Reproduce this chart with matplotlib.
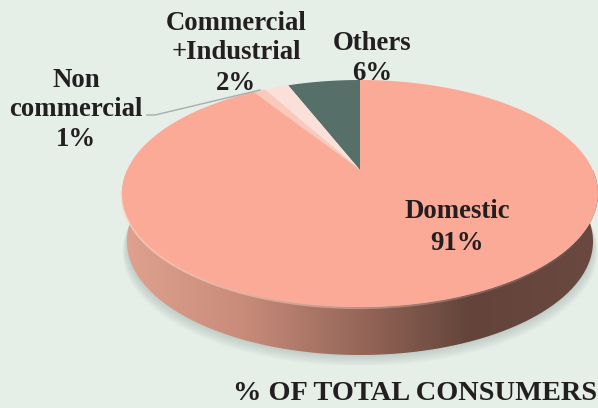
# -*- coding: UTF-8 -*-
"""Perspective pie chart: share of total consumers per category."""

import numpy as np
import matplotlib
matplotlib.use("Agg")
import matplotlib.pyplot as plt
from matplotlib.colors import LinearSegmentedColormap
from matplotlib.patches import Polygon

# counter-clockwise from twelve o'clock
CATEGORIES = ["Others", "Commercial\n+Industrial", "Non\ncommercial", "Domestic"]
SHARES = [6, 2, 1, 91]
COLORS = ["#566f69", "#fbe0da", "#f9cabc", "#fcaa98"]
TITLE = "% OF TOTAL CONSUMERS"

BACKGROUND = "#e6eee8"
TEXT_COLOR = "#231f20"
FONT = "Liberation Serif"

# picture geometry in pixels
APEX_X, APEX_Y = 360, 170
RADIUS_X = 238
UP, DOWN = 90, 137
DEPTH = 48


def project(angle, scale=1.0):
    """Tilted circle point for an angle in degrees, seen in perspective."""
    tilt = (DOWN - UP) / (DOWN + UP)
    height = UP * (1 + tilt)
    width = RADIUS_X * np.sqrt(1 - tilt ** 2)
    rad = np.radians(angle)
    denom = 1 + tilt * np.sin(rad) * scale
    return (APEX_X + width * scale * np.cos(rad) / denom,
            APEX_Y - height * scale * np.sin(rad) / denom)


def draw_shadow(ax):
    """Soft shadow under the disc."""
    angles = np.linspace(0, 360, 361)
    x, y = project(angles)
    for grow in np.linspace(11, 1, 10):
        scale_x = (RADIUS_X - 5 + grow * 0.4) / RADIUS_X
        pts = np.column_stack([APEX_X + (x - APEX_X) * scale_x,
                               y + DEPTH + grow])
        ax.add_patch(Polygon(pts, closed=True, fc="#8d9a94", ec="none",
                             alpha=0.04, zorder=1))


def draw_side(ax):
    """Rim of the disc with its left to right shading."""
    angles = np.linspace(180, 360, 181)
    x, y = project(angles)
    low_x = APEX_X + (x - APEX_X) * 233 / RADIUS_X
    pts = np.column_stack([np.r_[x, low_x[::-1]], np.r_[y, y[::-1] + DEPTH]])
    rim = Polygon(pts, closed=True, fc="none", ec="none", zorder=2)
    ax.add_patch(rim)
    cmap = LinearSegmentedColormap.from_list("rim", [
        (0.0, "#dfa28f"), (0.25, "#c98c7a"), (0.48, "#9a6a5c"),
        (0.73, "#64443a"), (1.0, "#6a4a40")])
    image = ax.imshow(np.linspace(0, 1, 256).reshape(1, -1), cmap=cmap,
                      extent=(122, 598, 408, 0), aspect="auto", zorder=2)
    image.set_clip_path(rim)
    # light edge where the top meets the rim, fading towards the right
    front = np.linspace(190, 330, 71)
    edge_x, edge_y = project(front)
    for i in range(len(front) - 1):
        fade = 0.9 * (1 - i / (len(front) - 1))
        ax.plot(edge_x[i:i + 2], edge_y[i:i + 2] + 1, color="#fcd0c0", lw=1.6,
                alpha=fade, solid_capstyle="butt", zorder=3)


def draw_slices(ax):
    """Top face of the disc, one polygon per category."""
    start = 90
    for share, color in zip(SHARES, COLORS):
        stop = start + share * 3.6
        x, y = project(np.linspace(start, stop, max(int(share * 4), 4)))
        pts = np.column_stack([np.r_[APEX_X, x], np.r_[APEX_Y, y]])
        ax.add_patch(Polygon(pts, closed=True, fc=color, ec="none", zorder=4))
        start = stop


def draw_labels(ax):
    """Category labels, percentages, leader line and title."""
    places = [(372, 43, 73), (236, 38, 84), (76, 95, 139), (457, 212, 244)]
    for name, share, (x, y_name, y_share) in zip(CATEGORIES, SHARES, places):
        ax.text(x, y_name, name, ha="center", va="center", fontsize=19.3,
                fontweight="bold", family=FONT, color=TEXT_COLOR,
                linespacing=1.22, zorder=6)
        ax.text(x, y_share, "%d%%" % share, ha="center", va="center",
                fontsize=19.3, fontweight="bold", family=FONT,
                color=TEXT_COLOR, zorder=6)
    ax.plot([147, 155, 260], [115, 115, 90], color="#a6adad", lw=1, zorder=5)
    ax.text(597, 393, TITLE, ha="right", va="center", fontsize=20.4,
            fontweight="bold", family=FONT, color=TEXT_COLOR, zorder=6)


def main():
    """Build the figure and save it."""
    fig = plt.figure(figsize=(5.98, 4.08), dpi=100, facecolor=BACKGROUND)
    ax = fig.add_axes([0, 0, 1, 1])
    draw_shadow(ax)
    draw_side(ax)
    draw_slices(ax)
    draw_labels(ax)
    ax.set_xlim(0, 598)
    ax.set_ylim(408, 0)
    ax.axis("off")
    fig.savefig("out.png", dpi=100, facecolor=BACKGROUND)


main()
